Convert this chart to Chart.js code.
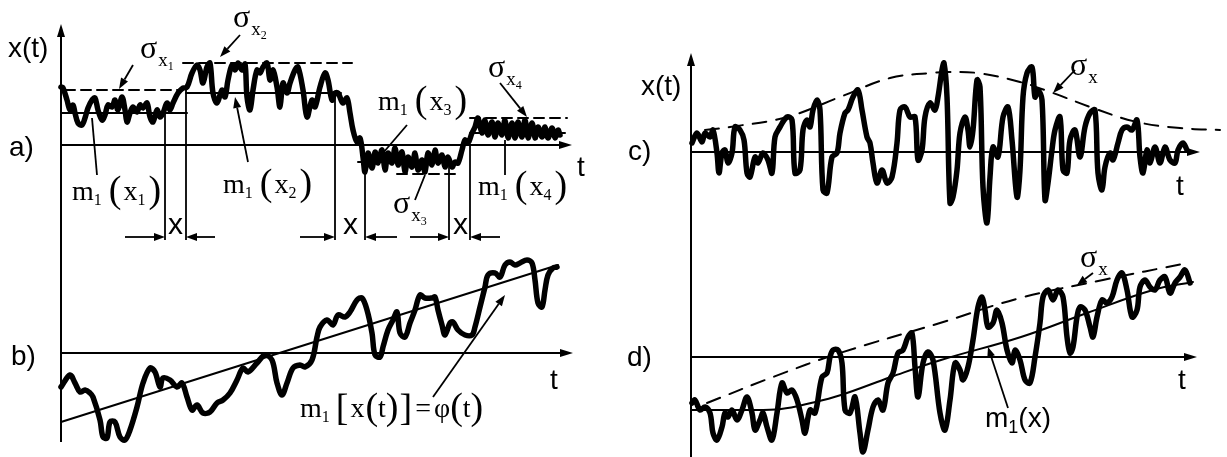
<!DOCTYPE html>
<html>
<head>
<meta charset="utf-8">
<script src="https://cdn.jsdelivr.net/npm/chart.js@4.4.0/dist/chart.umd.min.js"></script>
<style>
html,body{margin:0;padding:0;background:#fff;}
#wrap{position:relative;width:1227px;height:457px;}
</style>
</head>
<body>
<div id="wrap"><canvas id="chart" width="1227" height="457"></canvas></div>
<script>
//=============================
// DATA (t and x(t) in panel units)
//=============================

// a) piecewise stationary process
const signalA = [
[0,5.8],[0.2,5.7],[0.6,4.5],[0.9,3.5],[1.2,4.0],[1.4,3.2],[1.7,2.2],[2.1,2.0],[2.4,2.7],[2.7,3.7],
[3.1,4.5],[3.4,4.7],[3.7,3.5],[4.1,2.5],[4.4,3.0],[4.7,4.0],[5.1,3.8],[5.4,4.5],[5.7,3.5],[6.1,4.8],
[6.4,3.5],[6.6,2.3],[6.9,3.2],[7.2,3.8],[7.6,3.3],[7.9,4.0],[8.2,3.7],[8.6,4.2],[8.9,2.8],[9.2,2.3],
[9.6,3.5],[9.9,2.8],[10.2,3.2],[10.6,4.2],[10.9,3.5],[11.2,4.2],[11.7,5.2],[12.2,5.7],[12.6,5.8],
[13.1,7.2],[13.6,8.0],[13.9,7.5],[14.2,6.2],[14.6,7.8],[14.9,8.2],[15.2,5.2],[15.6,4.2],[16.1,5.5],
[16.4,4.8],[16.7,6.5],[17.1,8.0],[17.4,7.5],[17.7,8.2],[18.1,7.5],[18.4,8.1],[18.6,4.8],[18.9,3.5],
[19.2,5.5],[19.6,7.5],[19.9,7.2],[20.2,7.8],[20.6,8.2],[20.9,6.5],[21.2,7.5],[21.6,5.8],[21.9,3.8],
[22.2,6.2],[22.6,5.2],[22.9,6.2],[23.4,7.5],[23.7,7.8],[24.2,5.5],[24.6,2.8],[25.1,4.5],[25.4,3.8],
[25.9,5.8],[26.4,7.2],[26.7,6.5],[27.1,4.5],[27.4,5.2],[27.7,5.2],[28.2,4.2],[28.6,4.7],[28.9,3.2],
[29.2,1.5],[29.6,0.3],[29.9,0.7],
[30.2,-1.2],[30.4,-2.7],[30.7,-0.8],[31.1,-2.3],[31.4,-0.7],[31.7,-1.8],[32.1,-0.5],[32.4,-2.5],
[32.7,-0.8],[33.1,-1.8],[33.4,-0.3],[33.7,-2.0],[34.1,-0.7],[34.4,-2.7],[34.7,-1.2],[35.1,-2.2],
[35.4,-0.8],[35.7,-2.5],[36.1,-1.5],[36.4,-2.7],[36.7,-0.8],[37.1,-2.0],[37.4,-0.5],[37.7,-1.8],
[38.1,-1.0],[38.4,-2.2],[38.7,-1.2],[39.1,-2.2],[39.4,-1.7],[39.7,-1.8],[40.1,-0.5],[40.4,0.5],
[40.7,0.2],[41.1,1.2],
[41.4,1.8],[41.7,2.7],[42.1,1.2],[42.4,2.5],[42.7,1.0],[43.1,2.3],[43.4,0.8],[43.7,2.2],[44.1,1.0],
[44.4,2.5],[44.7,0.7],[45.1,2.2],[45.4,0.7],[45.7,2.3],[46.1,0.8],[46.4,2.5],[46.7,0.7],[47.1,2.2],
[47.4,0.7],[47.7,1.8],[48.1,0.8],[48.4,1.8],[48.7,0.7],[49.1,1.7],[49.4,0.7],[49.7,1.5],[49.9,1.0]
];
// [t start, t end, level]
const meansA  = [[0,12.6,3.2],[12.5,28.0,5.2],[29.7,39.6,-1.7],[40.9,50.4,1.2]];
const sigmasA = [[0.4,11.9,5.5],[12.2,29.1,8.2],[33.6,39.9,-2.9],[40.9,50.6,2.7]];

// b) process with a trend
const signalB = [
[0,-3.4],[0.9,-2.2],[1.4,-3.0],[1.9,-3.9],[2.4,-3.7],[2.9,-4.0],[3.2,-4.4],[3.9,-6.7],[4.2,-8.4],
[4.6,-8.5],[4.9,-6.9],[5.4,-6.9],[5.9,-8.4],[6.4,-8.7],[6.9,-7.7],[7.6,-5.4],[8.2,-3.0],[8.9,-1.5],
[9.4,-1.9],[9.9,-3.4],[10.2,-2.5],[10.9,-2.7],[11.6,-3.4],[12.1,-3.0],[12.6,-4.4],[13.1,-5.7],
[13.6,-5.2],[14.2,-6.0],[14.9,-5.9],[15.6,-5.0],[16.2,-4.7],[16.9,-4.0],[17.6,-2.7],[18.2,-1.5],
[18.7,-1.9],[19.6,-1.0],[20.4,-0.2],[21.1,-0.7],[21.6,-3.0],[22.1,-4.2],[22.6,-3.0],[23.2,-1.5],
[23.9,-1.2],[24.4,-1.4],[25.1,-0.7],[25.6,1.6],[25.9,2.6],[26.6,3.3],[27.2,2.8],[27.7,3.8],[28.4,3.6],
[28.9,4.1],[29.6,5.3],[30.1,5.5],[30.6,4.3],[31.1,2.0],[31.4,-0.2],[31.9,-0.4],[32.2,0.6],[32.7,2.3],
[33.2,3.3],[33.6,4.1],[33.9,2.0],[34.4,1.6],[34.9,3.0],[35.4,4.3],[35.9,5.8],[36.4,5.5],[37.1,5.5],
[37.4,5.6],[37.7,4.3],[38.1,2.8],[38.4,1.8],[38.9,3.0],[39.2,3.1],[39.7,2.3],[40.4,1.8],[41.1,1.8],
[41.4,2.6],[41.9,4.6],[42.4,6.6],[42.7,7.8],[43.4,8.0],[43.9,7.6],[44.4,8.8],[44.9,9.1],[45.4,8.8],
[45.9,9.0],[46.6,9.3],[47.1,9.0],[47.4,7.3],[47.7,5.0],[48.1,4.6],[48.4,6.3],[48.7,7.8],[49.2,8.5],
[49.6,8.6]
];
const trendB = [[0,-6.9],[49.7,8.8]];

// c) process with changing variance
const signalC = [
[0.1,0.9],[0.6,1.9],[1.1,1.0],[1.4,1.9],[1.9,1.5],[2.2,2.2],[2.6,-0.1],[2.8,-2.1],[3.1,-0.1],[3.4,0.2],
[3.7,-1.1],[4.1,-0.1],[4.4,2.5],[4.9,2.2],[5.3,1.2],[5.6,-2.1],[5.9,-2.5],[6.4,-0.5],[6.7,-1.1],
[7.2,-0.1],[7.7,-0.8],[8.1,-2.1],[8.4,1.5],[8.9,2.5],[9.6,3.5],[10.1,3.2],[10.4,-2.1],[10.9,-1.8],
[11.2,2.2],[11.6,3.2],[11.9,2.5],[12.2,4.2],[12.6,5.2],[12.9,4.2],[13.2,-3.8],[13.6,-4.1],[14.1,-0.5],
[14.6,-0.1],[14.9,1.9],[15.4,3.9],[15.7,4.2],[16.2,5.5],[16.7,6.2],[17.1,4.2],[17.6,1.5],[17.9,0.9],
[18.2,-1.1],[18.6,-3.1],[19.1,-1.8],[19.6,-3.1],[20.1,-2.5],[20.6,0.9],[20.9,4.2],[21.4,4.5],
[21.9,3.5],[22.4,3.5],[22.7,-0.8],[23.1,0.2],[23.4,3.5],[23.9,4.9],[24.4,4.2],[24.7,5.5],[25.1,8.2],
[25.3,8.9],[25.6,5.5],[25.9,-5.1],[26.2,-4.5],[26.6,-1.8],[26.9,1.9],[27.4,3.5],[27.7,2.2],[27.9,0.5],
[28.2,2.2],[28.6,7.2],[28.9,6.5],[29.2,-3.5],[29.6,-7.1],[29.9,-2.5],[30.2,0.5],[30.7,-0.5],[31.2,3.5],
[31.7,4.5],[32.1,1.2],[32.6,-4.5],[32.9,-1.8],[33.2,5.5],[33.6,7.9],[34.1,8.5],[34.4,5.5],[34.7,6.2],
[35.1,5.2],[35.4,-4.8],[35.7,-3.1],[36.1,0.2],[36.4,2.2],[36.9,3.5],[37.2,-1.8],[37.6,-2.1],[37.9,1.2],
[38.4,2.2],[38.9,-0.5],[39.4,2.5],[39.9,3.9],[40.4,4.2],[40.7,-2.1],[41.1,-3.8],[41.4,-1.5],[41.9,-0.1],
[42.2,-0.8],[42.7,0.9],[43.1,2.2],[43.6,2.5],[44.1,2.2],[44.6,3.2],[44.9,-0.5],[45.2,-2.1],[45.6,0.2],
[45.9,-1.1],[46.4,0.5],[46.9,-1.1],[47.4,0.5],[47.9,-0.8],[48.4,-1.1],[48.7,0.2],[49.2,0.9],[49.6,0.2]
];
const envelopeC = [
[1.4,2.2],[3.9,2.5],[9.6,3.5],[14.9,5.5],[19.9,7.4],[23.9,7.9],[25.6,8.0],[28.6,7.9],[32.9,7.0],
[36.2,5.9],[40.2,4.4],[44.6,3.0],[48.9,2.4],[52.9,2.2]
];

// d) process with trend and changing variance
const signalD = [
[0.1,-4.6],[0.4,-4.3],[0.9,-5.3],[1.4,-5.0],[1.9,-5.6],[2.2,-7.6],[2.6,-8.3],[3.1,-7.0],[3.4,-5.6],
[3.7,-6.0],[4.1,-5.3],[4.6,-6.3],[5.1,-5.3],[5.6,-4.0],[6.1,-5.6],[6.4,-7.3],[6.9,-6.3],[7.2,-5.6],
[7.6,-7.0],[8.1,-8.3],[8.6,-5.6],[9.1,-2.6],[9.6,-3.6],[10.1,-3.3],[10.6,-4.3],[11.1,-6.3],[11.4,-7.6],
[11.9,-5.3],[12.4,-5.6],[13.1,-2.0],[13.6,-1.6],[13.9,0],[14.2,0.7],[14.7,0.7],[15.1,-0.6],[15.4,-5.3],
[15.9,-5.6],[16.4,-4.0],[16.9,-7.6],[17.2,-9.5],[17.7,-7.3],[18.2,-5.0],[18.7,-4.3],[19.2,-5.3],
[19.7,-2.6],[20.2,-1.6],[20.7,0.4],[21.2,0.7],[21.7,2.0],[22.1,2.4],[22.4,-1.0],[22.7,-4.0],[23.2,-0.6],
[23.7,0.5],[24.2,-0.3],[24.9,-5.6],[25.4,-7.3],[25.9,-4.3],[26.4,-0.6],[26.9,-1.3],[27.2,-2.3],
[27.7,-1.0],[28.2,1.7],[28.7,5.0],[29.1,6.0],[29.4,4.7],[29.7,3.0],[30.2,3.4],[30.6,4.7],[31.1,3.4],
[31.6,0.7],[32.1,-0.6],[32.4,0.7],[32.9,-0.3],[33.4,-2.3],[33.9,-2.6],[34.4,0],[34.9,3.4],[35.2,6.0],
[35.7,6.7],[36.2,5.7],[36.7,6.7],[37.2,6.0],[37.6,2.0],[37.9,0.4],[38.2,1.0],[38.6,4.0],[38.9,5.0],
[39.4,4.7],[39.9,3.0],[40.2,2.0],[40.6,4.0],[41.1,5.7],[41.6,5.4],[42.1,6.0],[42.6,7.7],[43.1,8.4],
[43.6,6.7],[44.1,4.0],[44.6,4.7],[44.9,7.0],[45.4,7.7],[45.9,7.0],[46.4,6.7],[46.9,7.7],[47.4,8.0],
[47.9,6.4],[48.4,7.4],[48.9,8.0],[49.4,8.7],[49.9,7.4]
];
const meanD  = [[0,-5.3],[5,-5.3],[9,-5.2],[12,-4.6],[15,-3.8],[20,-2.0],[25,-0.3],[33,2.0],[39.6,4.4],[46.2,6.7],[50.2,7.5]];
const sigmaD = [[1.6,-4.6],[8.2,-2.0],[14.9,0.4],[24.9,3.4],[32.9,5.9],[41.2,7.7],[49.6,9.4]];

//=============================
// LAYOUT
//=============================

const W = 1227, H = 457, PX = 10;          // 10 px per unit
const SAN = '"Liberation Sans", Arial, sans-serif';
const SER = '"Liberation Serif", "Times New Roman", serif';
const THICK = 5.5;

function xs(o){ return {type:"linear",display:false,min:-o/PX,max:(W-o)/PX}; }
function ys(o){ return {type:"linear",display:false,min:-(H-o)/PX,max:o/PX}; }

function ds(pairs,x,y,width,dash,tension){
    return {
        data:pairs.map(p=>({x:p[0],y:p[1]})),
        xAxisID:x, yAxisID:y,
        showLine:true, fill:false,
        borderColor:"#000", borderWidth:width,
        borderDash:dash||[], tension:tension||0,
        borderCapStyle:"round", borderJoinStyle:"round",
        pointRadius:0
    };
}

const datasets = [];
meansA.forEach(m=>datasets.push(ds([[m[0],m[2]],[m[1],m[2]]],"xl","ya",2)));
sigmasA.forEach(m=>datasets.push(ds([[m[0],m[2]],[m[1],m[2]]],"xl","ya",2,[10,6])));
datasets.push(ds(signalA,"xl","ya",THICK,null,0.35));
datasets.push(ds(trendB,"xl","yb",2));
datasets.push(ds(signalB,"xl","yb",THICK,null,0.35));
datasets.push(ds(envelopeC,"xr","yc",2,[14,10],0.4));
datasets.push(ds(signalC,"xr","yc",THICK,null,0.35));
datasets.push(ds(meanD,"xr","yd",2,null,0.4));
datasets.push(ds(sigmaD,"xr","yd",2,[14,10],0.4));
datasets.push(ds(signalD,"xr","yd",THICK,null,0.35));

//=============================
// DRAW HELPERS
//=============================

function head(ctx,x1,y1,x2,y2,len,half){
    const a=Math.atan2(y2-y1,x2-x1);
    const bx=x2-len*Math.cos(a), by=y2-len*Math.sin(a);
    ctx.beginPath();
    ctx.moveTo(x2,y2);
    ctx.lineTo(bx-half*Math.sin(a),by+half*Math.cos(a));
    ctx.lineTo(bx+half*Math.sin(a),by-half*Math.cos(a));
    ctx.closePath();
    ctx.fill();
    return [bx,by];
}

function arrow(ctx,x1,y1,x2,y2,len,half){
    const b=head(ctx,x1,y1,x2,y2,len||11,half||4);
    ctx.beginPath(); ctx.moveTo(x1,y1); ctx.lineTo(b[0],b[1]); ctx.stroke();
}

function seg(ctx,x1,y1,x2,y2){
    ctx.beginPath(); ctx.moveTo(x1,y1); ctx.lineTo(x2,y2); ctx.stroke();
}

function rich(ctx,x,y,parts){
    let cx=x;
    parts.forEach(p=>{
        ctx.font=p[1];
        cx+=p[3]||0;
        ctx.fillText(p[0],cx,y+(p[2]||0));
        cx+=ctx.measureText(p[0]).width;
    });
}

function sigmaLabel(ctx,x,y,sub){
    const parts=[["σ","32px "+SER],["x","19px "+SER,8,1]];
    if(sub) parts.push([sub,"12px "+SER,12]);
    rich(ctx,x,y,parts);
}

function mLabel(ctx,x,y,sub){
    rich(ctx,x,y,[
        ["m","28px "+SER],["1","16px "+SER,5],
        ["(","38px "+SER,2,7],["x","28px "+SER,0,2],[sub,"16px "+SER,5],[")","38px "+SER,2,3]
    ]);
}

//=============================
// AXES + ANNOTATIONS PLUGIN
//=============================

const deco = {
    id:"deco",
    beforeDatasetsDraw(chart){
        const ctx=chart.ctx, s=chart.scales;
        const lx=s.xl.getPixelForValue(0), rx=s.xr.getPixelForValue(0);
        ctx.save();
        ctx.strokeStyle="#000"; ctx.fillStyle="#000"; ctx.lineWidth=2;
        arrow(ctx,lx,442,lx,24,13,4);
        arrow(ctx,rx,H,rx,53,13,4);
        const ay=s.ya.getPixelForValue(0), by=s.yb.getPixelForValue(0);
        const cy=s.yc.getPixelForValue(0), dy=s.yd.getPixelForValue(0);
        arrow(ctx,lx,ay,s.xl.getPixelForValue(51.1),ay,13,4);
        arrow(ctx,lx,by,s.xl.getPixelForValue(51.2),by,13,4);
        arrow(ctx,rx,cy,s.xr.getPixelForValue(50.9),cy,13,4);
        arrow(ctx,rx,dy,s.xr.getPixelForValue(50.6),dy,13,4);
        ctx.restore();
    },
    afterDatasetsDraw(chart){
        const ctx=chart.ctx, s=chart.scales;
        const P=(xi,yi,t,v)=>[s[xi].getPixelForValue(t),s[yi].getPixelForValue(v)];
        ctx.save();
        ctx.strokeStyle="#000"; ctx.fillStyle="#000"; ctx.lineWidth=1.8;

        // segment borders and interval arrows in a)
        [[10.4,3.2],[12.5,5.5],[27.4,5.3],[30.4,-2.5],[38.8,-2.0],[40.9,0]].forEach(b=>{
            const p=P("xl","ya",b[0],b[1]), q=P("xl","ya",b[0],-9.5);
            seg(ctx,p[0],p[1],q[0],q[1]);
        });
        [[6.4,10.4],[15.4,12.5],[23.9,27.4],[33.6,30.4],[34.9,38.8],[43.9,40.9]].forEach(d=>{
            const p=P("xl","ya",d[0],-9.2), q=P("xl","ya",d[1],-9.2);
            arrow(ctx,p[0],p[1],q[0],q[1],11,4);
        });

        // pointers
        const arrowsA=[[[7.2,8.0],[5.8,5.6]],[[17.9,11.0],[15.9,8.8]],[[43.9,6.2],[46.6,2.8]],[[18.7,-1.7],[17.4,4.8]]];
        arrowsA.forEach(a=>{
            const p=P("xl","ya",a[0][0],a[0][1]), q=P("xl","ya",a[1][0],a[1][1]);
            arrow(ctx,p[0],p[1],q[0],q[1],11,4);
        });
        const linesA=[[[3.6,-3.0],[3.1,2.7]],[[34.6,2.0],[32.2,-0.8]],[[44.4,0.5],[44.4,-3.0]],[[35.4,-5.5],[36.4,-3.0]]];
        linesA.forEach(a=>{
            const p=P("xl","ya",a[0][0],a[0][1]), q=P("xl","ya",a[1][0],a[1][1]);
            seg(ctx,p[0],p[1],q[0],q[1]);
        });
        let p=P("xl","yb",37.2,-4.4), q=P("xl","yb",44.4,5.8);
        arrow(ctx,p[0],p[1],q[0],q[1],11,4);
        p=P("xr","yc",38.4,8.2); q=P("xr","yc",36.2,5.9);
        arrow(ctx,p[0],p[1],q[0],q[1],11,4);
        p=P("xr","yd",40.2,8.4); q=P("xr","yd",38.6,7.2);
        arrow(ctx,p[0],p[1],q[0],q[1],10,4);
        p=P("xr","yd",31.7,-5.1); q=P("xr","yd",29.7,1.0);
        arrow(ctx,p[0],p[1],q[0],q[1],10,4);

        // sans labels
        ctx.textBaseline="alphabetic";
        ctx.font="28px "+SAN;
        ctx.fillText("x(t)",8,57);
        ctx.fillText("a)",9,156);
        ctx.fillText("b)",11,365);
        ctx.fillText("x(t)",641,95);
        ctx.fillText("c)",628,160);
        ctx.fillText("d)",627,366);
        ctx.fillText("t",577,176);
        ctx.fillText("t",550,389);
        ctx.fillText("t",1176,195);
        ctx.fillText("t",1178,389);
        ctx.font="30px "+SAN;
        ctx.fillText("x",168,234);
        ctx.fillText("x",343,234);
        ctx.fillText("x",453,234);
        rich(ctx,985,427,[["m","28px "+SAN],["1","18px "+SAN,6],["(x)","28px "+SAN]]);

        // serif labels
        sigmaLabel(ctx,140,58,"1");
        sigmaLabel(ctx,233,27,"2");
        sigmaLabel(ctx,393,213,"3");
        sigmaLabel(ctx,488,77,"4");
        sigmaLabel(ctx,1070,75,"");
        sigmaLabel(ctx,1080,267,"");
        mLabel(ctx,72,200,"1");
        mLabel(ctx,223,193,"2");
        mLabel(ctx,378,110,"3");
        mLabel(ctx,478,195,"4");
        rich(ctx,300,417,[
            ["m","28px "+SER],["1","16px "+SER,5],
            ["[","38px "+SER,3,6],["x","28px "+SER,0,2],["(","38px "+SER,2,1],["t","28px "+SER],
            [")","38px "+SER,2],["]","38px "+SER,3,1],["=","28px "+SER,0,3],["φ","28px "+SER,0,3],
            ["(","38px "+SER,2],["t","28px "+SER],[")","38px "+SER,2]
        ]);
        ctx.restore();
    }
};

//=============================
// CHART
//=============================

new Chart(document.getElementById("chart"),{
    type:"scatter",
    data:{datasets:datasets},
    options:{
        responsive:false,
        animation:false,
        devicePixelRatio:1,
        events:[],
        layout:{padding:0},
        plugins:{legend:{display:false},tooltip:{enabled:false}},
        scales:{
            xl:xs(61), xr:xs(691),
            ya:ys(145), yb:ys(353), yc:ys(152), yd:ys(357)
        }
    },
    plugins:[deco]
});
</script>
</body>
</html>
